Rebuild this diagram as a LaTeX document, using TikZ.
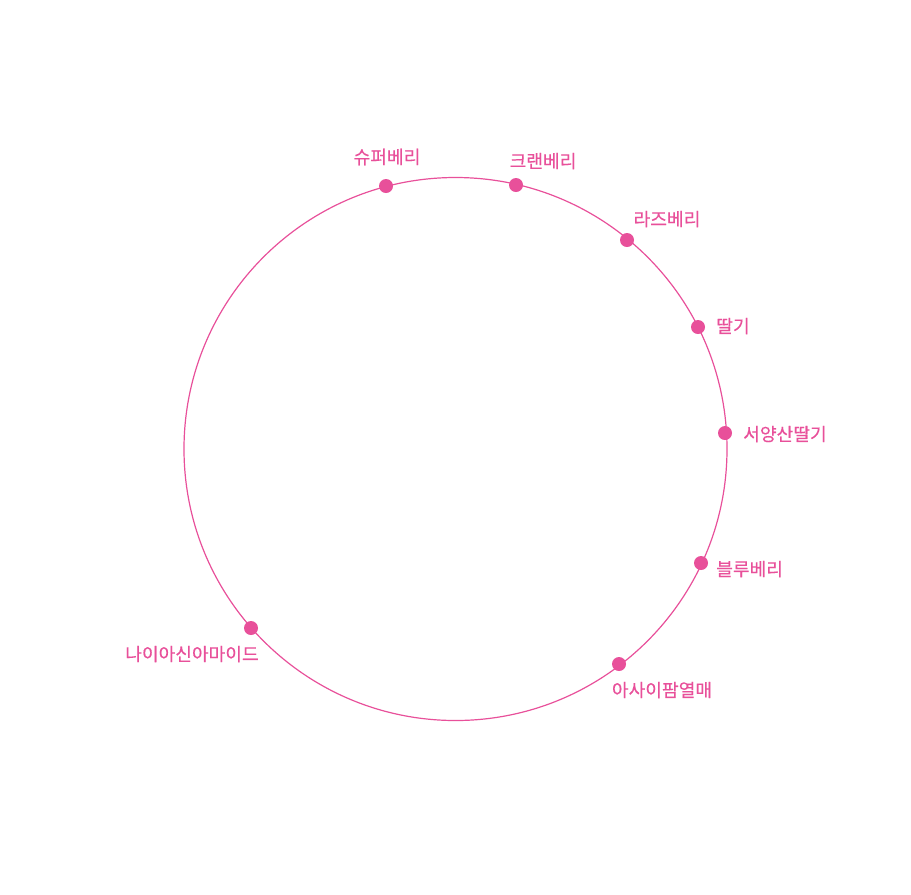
\documentclass[tikz,border=0pt]{standalone}
\usepackage{fontspec}
\newfontfamily\cjk[FakeBold=0.4]{Noto Sans CJK KR}
\definecolor{berry}{HTML}{E8509A}
\begin{document}
\begin{tikzpicture}[x=0.75pt,y=-0.75pt,
  dot/.style={circle,fill=berry,inner sep=0pt,minimum size=10.5pt},
  lbl/.style={text=berry,font=\cjk\fontsize{13.6pt}{15pt}\selectfont,inner sep=0pt}]
\useasboundingbox (0,0) rectangle (911,894);
\node[draw=berry,line width=0.9pt,circle,minimum size=543*0.75pt,inner sep=0pt] (c) at (455.5,449) {};
\node[dot] (d1) at (386,186) {};
\node[dot] (d2) at (516,185) {};
\node[dot] (d3) at (627,240) {};
\node[dot] (d4) at (698,327) {};
\node[dot] (d5) at (725,433) {};
\node[dot] (d6) at (701,563) {};
\node[dot] (d7) at (619,664) {};
\node[dot] (d8) at (251,628) {};
\node[lbl] (l1) at (387,157) {슈퍼베리};
\node[lbl] (l2) at (543,161) {크랜베리};
\node[lbl] (l3) at (667,219) {라즈베리};
\node[lbl,anchor=west] (l4) at (716,326) {딸기};
\node[lbl,anchor=west] (l5) at (743,434) {서양산딸기};
\node[lbl,anchor=west] (l6) at (716,569) {블루베리};
\node[lbl] (l7) at (662,690) {아사이팜열매};
\node[lbl] (l8) at (192,654) {나이아신아마이드};
\end{tikzpicture}
\end{document}
